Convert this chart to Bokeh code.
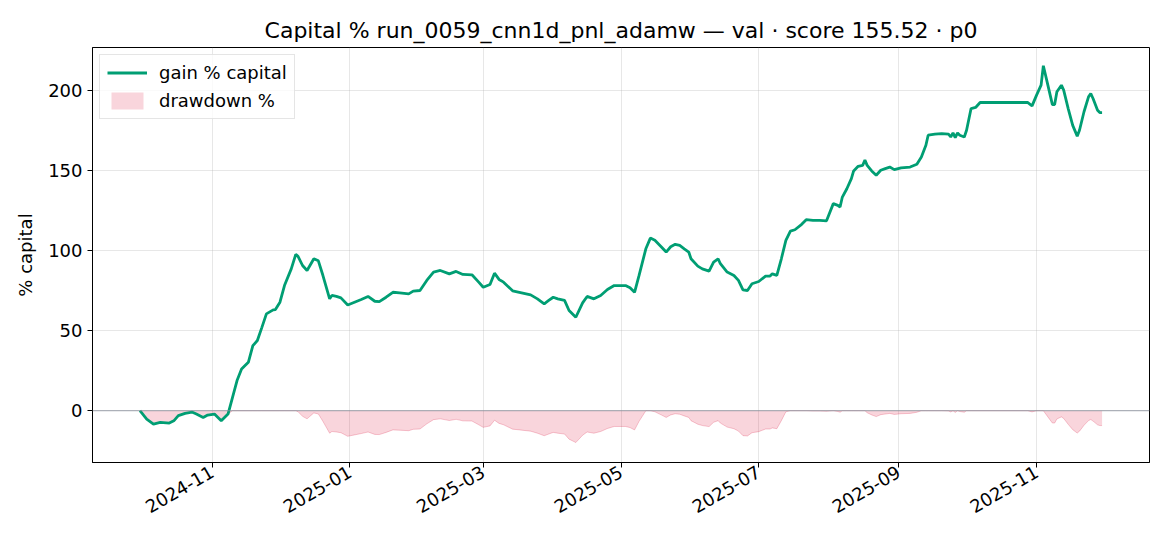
from datetime import datetime
from math import pi

import numpy as np
import pandas as pd
from bokeh.plotting import figure
from bokeh.models import (ColumnDataSource, FixedTicker, DatetimeTickFormatter,
                          Legend, LegendItem, Range1d, Span)
from bokeh.embed import file_html
from bokeh.resources import INLINE

# valeurs (gain % du capital)
dates = [
    "2024-09-30", "2024-10-03", "2024-10-06", "2024-10-09", "2024-10-13", "2024-10-15",
    "2024-10-17", "2024-10-20", "2024-10-23", "2024-10-25", "2024-10-28", "2024-10-30",
    "2024-11-02", "2024-11-05", "2024-11-08", "2024-11-10", "2024-11-12", "2024-11-14",
    "2024-11-17", "2024-11-19", "2024-11-21", "2024-11-23", "2024-11-25", "2024-11-28",
    "2024-11-29", "2024-12-01", "2024-12-03", "2024-12-06", "2024-12-08", "2024-12-09",
    "2024-12-11", "2024-12-13", "2024-12-16", "2024-12-18", "2024-12-20", "2024-12-23",
    "2024-12-24", "2024-12-26", "2024-12-28", "2024-12-31", "2025-01-03", "2025-01-06",
    "2025-01-09", "2025-01-12", "2025-01-14", "2025-01-17", "2025-01-20", "2025-01-23",
    "2025-01-27", "2025-01-29", "2025-02-01", "2025-02-04", "2025-02-07", "2025-02-10",
    "2025-02-14", "2025-02-17", "2025-02-20", "2025-02-24", "2025-02-27", "2025-03-01",
    "2025-03-04", "2025-03-06", "2025-03-08", "2025-03-10", "2025-03-14", "2025-03-17",
    "2025-03-22", "2025-03-25", "2025-03-28", "2025-03-30", "2025-04-01", "2025-04-03",
    "2025-04-06", "2025-04-08", "2025-04-11", "2025-04-14", "2025-04-16", "2025-04-19",
    "2025-04-22", "2025-04-25", "2025-04-28", "2025-05-03", "2025-05-05", "2025-05-07",
    "2025-05-09", "2025-05-12", "2025-05-14", "2025-05-16", "2025-05-19", "2025-05-21",
    "2025-05-23", "2025-05-25", "2025-05-27", "2025-05-29", "2025-05-31", "2025-06-01",
    "2025-06-04", "2025-06-06", "2025-06-09", "2025-06-11", "2025-06-13", "2025-06-14",
    "2025-06-17", "2025-06-20", "2025-06-22", "2025-06-24", "2025-06-26", "2025-06-28",
    "2025-07-01", "2025-07-04", "2025-07-06", "2025-07-07", "2025-07-09", "2025-07-11",
    "2025-07-13", "2025-07-15", "2025-07-17", "2025-07-20", "2025-07-22", "2025-07-25",
    "2025-07-28", "2025-07-31", "2025-08-03", "2025-08-05", "2025-08-06", "2025-08-07",
    "2025-08-09", "2025-08-11", "2025-08-12", "2025-08-14", "2025-08-16", "2025-08-17",
    "2025-08-18", "2025-08-20", "2025-08-22", "2025-08-24", "2025-08-26", "2025-08-28",
    "2025-08-30", "2025-09-02", "2025-09-06", "2025-09-09", "2025-09-11", "2025-09-13",
    "2025-09-14", "2025-09-17", "2025-09-20", "2025-09-23", "2025-09-24", "2025-09-25",
    "2025-09-26", "2025-09-27", "2025-09-28", "2025-09-30", "2025-10-01", "2025-10-03",
    "2025-10-05", "2025-10-07", "2025-10-28", "2025-10-30", "2025-11-01", "2025-11-03",
    "2025-11-04", "2025-11-06", "2025-11-08", "2025-11-09", "2025-11-10", "2025-11-12",
    "2025-11-13", "2025-11-15", "2025-11-17", "2025-11-19", "2025-11-20", "2025-11-22",
    "2025-11-24", "2025-11-25", "2025-11-26", "2025-11-28", "2025-11-29", "2025-11-30",
]
gain = [
    0.0, -5.2, -8.3, -7.3, -7.7, -6.3,
    -3.1, -1.7, -0.8, -2.1, -4.2, -2.7,
    -2.1, -6.3, -2.1, 8.3, 18.8, 26.0,
    30.2, 40.6, 43.8, 52.0, 60.4, 62.9,
    63.1, 67.7, 78.1, 88.5, 97.5, 96.3,
    90.6, 87.5, 94.8, 93.5, 84.5, 69.8,
    71.9, 71.3, 70.4, 66.0, 67.7, 69.4,
    71.3, 68.3, 68.1, 70.8, 73.9, 73.5,
    72.9, 74.6, 75.0, 81.3, 86.5, 87.5,
    85.4, 86.9, 85.0, 84.8, 80.2, 77.0,
    78.8, 85.8, 81.9, 80.2, 74.8, 73.9,
    72.3, 69.8, 66.7, 68.8, 70.8, 69.8,
    68.8, 62.5, 58.3, 67.3, 71.3, 69.8,
    71.9, 75.6, 78.1, 78.1, 76.7, 73.9,
    84.4, 101.0, 107.7, 106.3, 102.0, 99.0,
    102.3, 103.8, 103.1, 101.0, 99.0, 94.8,
    90.2, 88.5, 87.1, 92.7, 94.8, 91.7,
    86.5, 84.4, 81.3, 75.4, 75.0, 79.2,
    80.6, 84.0, 84.0, 85.4, 84.4, 94.8,
    106.3, 112.1, 112.9, 116.3, 119.2, 118.8,
    118.8, 118.5, 129.2, 128.1, 127.1, 133.3,
    138.5, 144.8, 149.6, 152.5, 153.1, 156.3,
    153.1, 149.6, 146.9, 150.0, 151.0, 152.0,
    150.4, 151.5, 152.0, 153.8, 158.3, 165.6,
    171.9, 172.5, 172.9, 172.5, 170.8, 173.3,
    170.4, 173.3, 171.9, 170.8, 175.0, 188.5,
    189.2, 192.3, 192.3, 190.2, 196.9, 203.1,
    215.2, 203.1, 191.0, 191.0, 199.0, 203.1,
    200.0, 188.5, 178.0, 171.3, 175.0, 186.5,
    195.8, 197.9, 194.8, 187.5, 186.0, 186.0,
]

x_ticks = ["2024-11-01", "2025-01-01", "2025-03-01", "2025-05-01",
           "2025-07-01", "2025-09-01", "2025-11-01"]
y_ticks = [0, 50, 100, 150, 200]

FONT = "DejaVu Sans"
GREEN = "#009E73"

t = pd.to_datetime(dates)
cap = 100 + np.array(gain)
# drawdown du capital par rapport au plus haut atteint
drawdown = (cap / np.maximum.accumulate(cap) - 1) * 100

src = ColumnDataSource(dict(t=t, gain=gain, dd=drawdown, zero=np.zeros(len(gain))))

p = figure(width=1154, height=530, x_axis_type="datetime",
           output_backend="svg", toolbar_location=None,
           x_range=Range1d(datetime(2024, 9, 9), datetime(2025, 12, 21)),
           y_range=Range1d(-32.3, 226.6),
           min_border_left=92, min_border_right=5,
           min_border_top=47, min_border_bottom=68)

p.title.text = "Capital % run_0059_cnn1d_pnl_adamw \u2014 val \u00b7 score 155.52 \u00b7 p0"
p.title.align = "center"
p.title.text_font = FONT
p.title.text_font_size = "22px"
p.title.text_font_style = "normal"
p.title.text_color = "black"

dd_area = p.varea(x="t", y1="dd", y2="zero", source=src,
                  fill_color="crimson", fill_alpha=0.18)
dd_edge = p.line(x="t", y="dd", source=src, line_color="crimson",
                 line_alpha=0.22, line_width=1)

zero_line = Span(location=0, dimension="width", line_color="#8a8f9c",
                 line_width=1, line_alpha=0.8)
p.add_layout(zero_line)

gain_line = p.line(x="t", y="gain", source=src, line_color=GREEN, line_width=2.8)

legend = Legend(items=[LegendItem(label="gain % capital", renderers=[gain_line]),
                       LegendItem(label="drawdown %", renderers=[dd_area])],
                location="top_left")
legend.label_text_font = FONT
legend.label_text_font_size = "18px"
legend.label_text_color = "black"
legend.border_line_color = "#cccccc"
legend.border_line_width = 1.5
legend.background_fill_alpha = 0.8
legend.margin = 7
legend.padding = 7
legend.spacing = 7
legend.glyph_width = 40
legend.glyph_height = 21
legend.label_height = 21
legend.label_standoff = 12
p.add_layout(legend)

p.xaxis.ticker = FixedTicker(ticks=[pd.Timestamp(d).value / 1e6 for d in x_ticks])
fmt = "%Y-%m"
p.xaxis.formatter = DatetimeTickFormatter(days=fmt, months=fmt, years=fmt)
p.xaxis.major_label_orientation = pi / 6
p.xaxis.major_label_standoff = 3
p.yaxis.ticker = FixedTicker(ticks=y_ticks)
p.yaxis.axis_label = "% capital"
p.yaxis.axis_label_standoff = 9

for ax in (p.xaxis, p.yaxis):
    ax.major_label_text_font = FONT
    ax.major_label_text_font_size = "18px"
    ax.major_label_text_color = "black"
    ax.axis_label_text_font = FONT
    ax.axis_label_text_font_size = "18px"
    ax.axis_label_text_font_style = "normal"
    ax.axis_label_text_color = "black"
    ax.axis_line_color = "black"
    ax.major_tick_line_color = "black"
    ax.major_tick_out = 5
    ax.major_tick_in = 0
    ax.minor_tick_line_color = None

p.grid.grid_line_color = "#b0b0b0"
p.grid.grid_line_alpha = 0.3
p.outline_line_color = "black"
p.outline_line_width = 1

open("out.html", "w").write(file_html(p, INLINE))
